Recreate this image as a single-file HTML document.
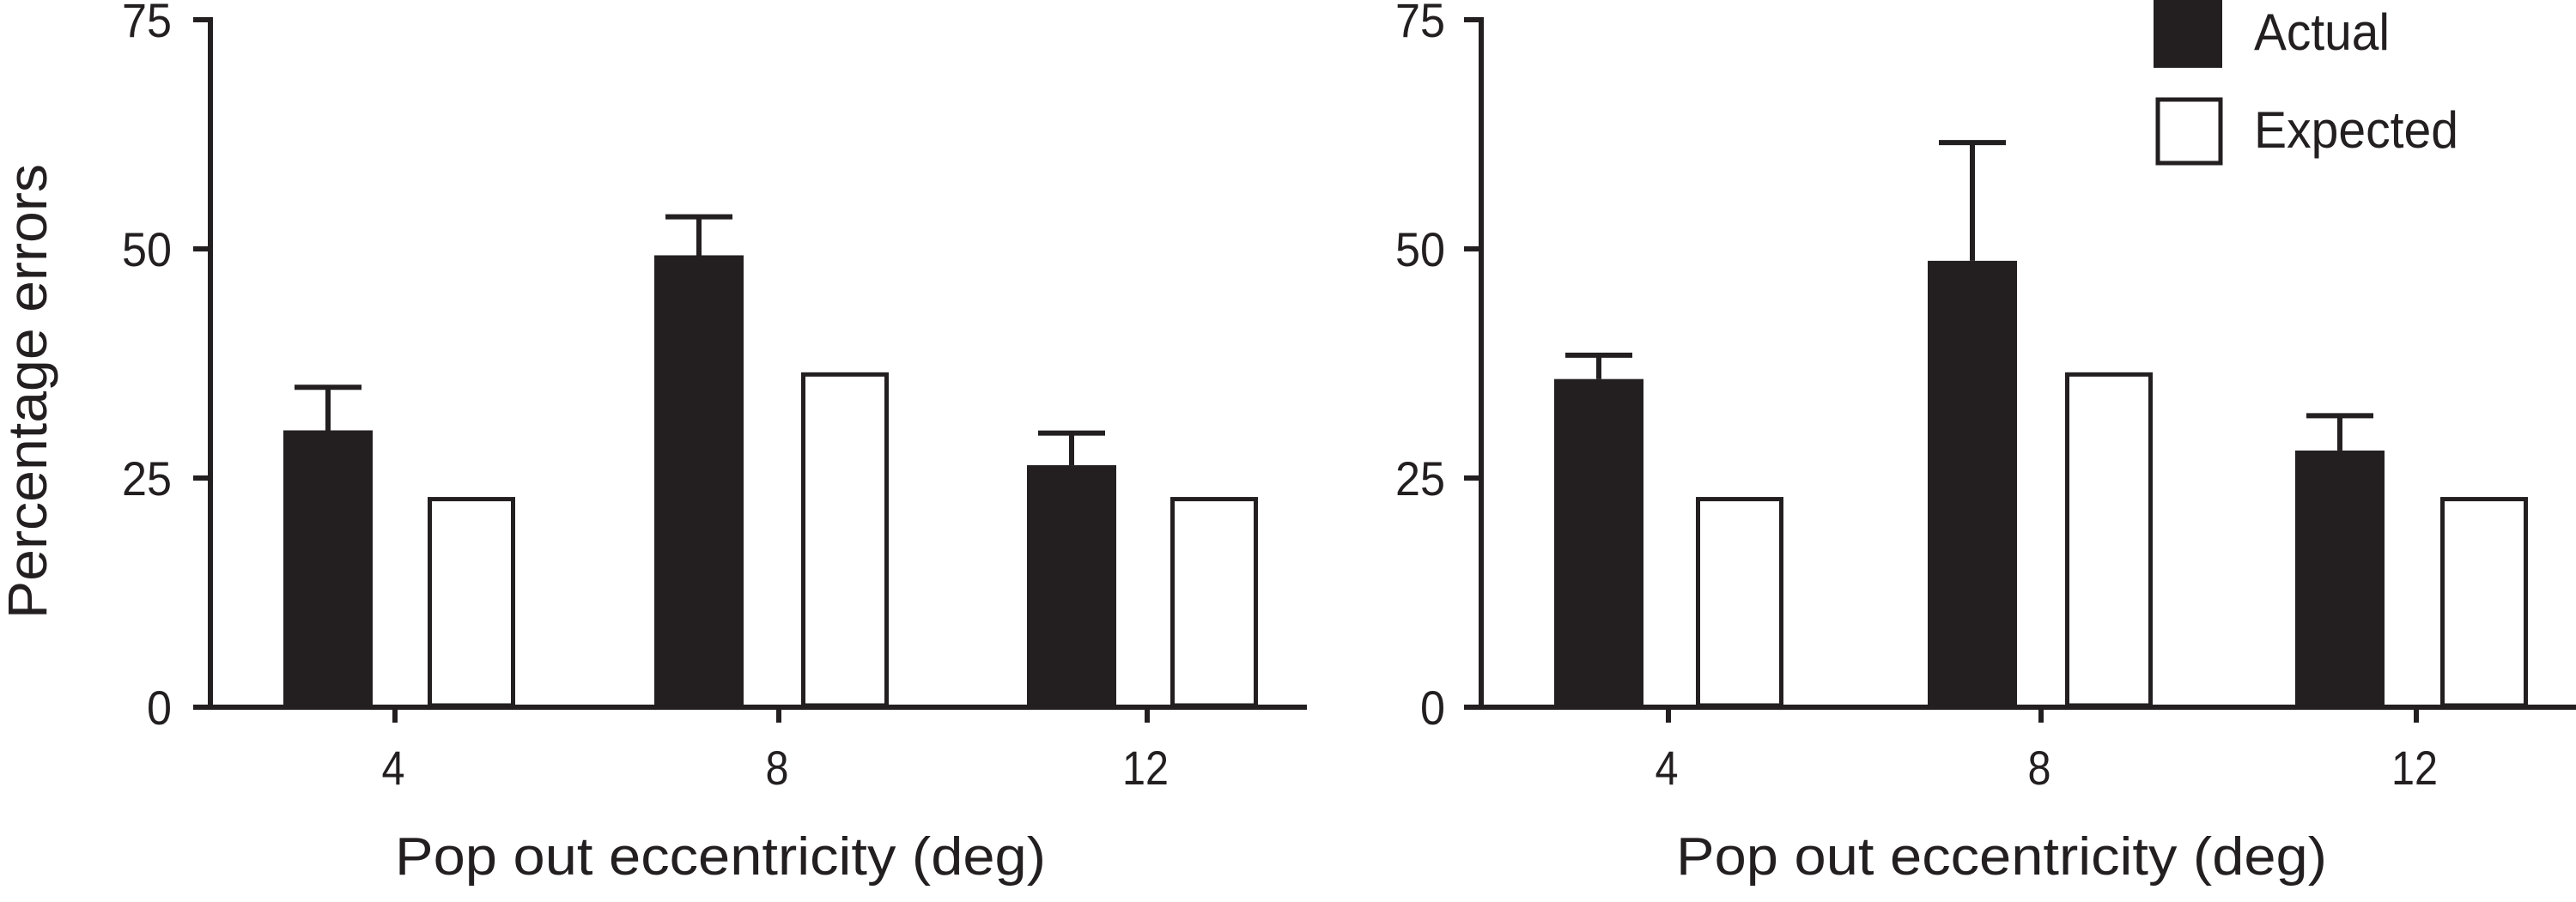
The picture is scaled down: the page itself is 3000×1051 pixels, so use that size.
<!DOCTYPE html>
<html><head><meta charset="utf-8"><style>
html,body{margin:0;padding:0;background:#fff;}
svg{display:block;}
text{font-family:"Liberation Sans",Arial,sans-serif;fill:#231f20;}
</style></head><body>
<svg id="chart" width="3000" height="1051" viewBox="0 0 3000 1051" xmlns="http://www.w3.org/2000/svg">
<g id="legend">
  <rect x="2508" y="-5" width="80" height="84" fill="#231f20"/>
  <text x="2625" y="58" font-size="60" textLength="158" lengthAdjust="spacingAndGlyphs">Actual</text>
  <rect x="2513" y="116" width="73" height="74" fill="#fff" stroke="#231f20" stroke-width="5"/>
  <text x="2625" y="172" font-size="60" textLength="238" lengthAdjust="spacingAndGlyphs">Expected</text>
</g>
<text transform="translate(54,456) rotate(-90)" text-anchor="middle" font-size="64" textLength="530" lengthAdjust="spacingAndGlyphs">Percentage errors</text>
</svg>
<script>
const categories = ["4", "8", "12"];
const yTicks = [0, 25, 50, 75];
const leftActual = [30.2, 49.3, 26.4];
const leftActualErr = [4.7, 4.2, 3.5];
const leftExpected = [22.7, 36.3, 22.7];
const rightActual = [35.8, 48.7, 28.0];
const rightActualErr = [2.6, 12.9, 3.8];
const rightExpected = [22.7, 36.3, 22.7];

const NS = "http://www.w3.org/2000/svg";
const svg = document.getElementById("chart");
const Y0 = 824, YMAX = 23;
function yScale(v){ return Y0 - (v/75)*(Y0-YMAX); }
function mk(tag, attrs, parent){
  const e = document.createElementNS(NS, tag);
  for (const k in attrs) e.setAttribute(k, attrs[k]);
  (parent||svg).appendChild(e);
  return e;
}
const panels = [
  {id:"left", axisX:245, axisEnd:1522, labelRight:200, tickCenters:[460,907,1336], actualX:[330,762,1196], expX:[498,933,1363], barW:104, actual:leftActual, err:leftActualErr, exp:leftExpected, titleX:839},
  {id:"right", axisX:1725, axisEnd:3000, labelRight:1683, tickCenters:[1943,2377,2814], actualX:[1810,2245,2673], expX:[1975,2405,2842], barW:104, actual:rightActual, err:rightActualErr, exp:rightExpected, titleX:2331}
];
panels.forEach(p=>{
  const g = mk("g", {});
  
  
  categories.forEach((c,i)=>{
    const ax = p.actualX[i];
    const top = yScale(p.actual[i]);
    const etop = yScale(p.actual[i] + p.err[i]);
    const cx = ax + p.barW/2;
    const el = mk("line", {x1:cx, x2:cx, y1:top, y2:etop, stroke:"#231f20", "stroke-width":6}, g);
    
    
    const cap = mk("line", {x1:cx-39, x2:cx+39, y1:etop, y2:etop, stroke:"#231f20", "stroke-width":6}, g);
    
    
    const b = mk("rect", {x:ax, y:top, width:p.barW, height:Y0-top, fill:"#231f20"}, g);
    
    
    const et = yScale(p.exp[i]);
    const eb = mk("rect", {x:p.expX[i]+2.5, y:et, width:p.barW-7, height:Y0-et-2, fill:"#fff", stroke:"#231f20", "stroke-width":5}, g);
    
    
    const tx = p.tickCenters[i];
    const t = mk("line", {x1:tx, x2:tx, y1:Y0, y2:842, stroke:"#231f20", "stroke-width":6}, g);
    
    
    const tl = mk("text", {x:tx-2, y:914, "font-size":56, "text-anchor":"middle", textLength:27*c.length, lengthAdjust:"spacingAndGlyphs"}, g);
    tl.textContent = c;
    
    
  });
  const ya = mk("line", {x1:p.axisX, x2:p.axisX, y1:YMAX-3, y2:Y0+3, stroke:"#231f20", "stroke-width":6}, g);
  
  
  const xa = mk("line", {x1:p.axisX-3, x2:p.axisEnd, y1:Y0, y2:Y0, stroke:"#231f20", "stroke-width":6}, g);
  
  
  yTicks.forEach(v=>{
    const y = yScale(v);
    const t = mk("line", {x1:p.axisX-20, x2:p.axisX, y1:y, y2:y, stroke:"#231f20", "stroke-width":6}, g);
    
    
    const s = String(v);
    const l = mk("text", {x:p.labelRight, y:y+20, "font-size":56, "text-anchor":"end", textLength:29*s.length, lengthAdjust:"spacingAndGlyphs"}, g);
    l.textContent = s;
    
    
  });
  const tt = mk("text", {x:p.titleX, y:1019, "font-size":62, "text-anchor":"middle", textLength:758, lengthAdjust:"spacingAndGlyphs"}, g);
  tt.textContent = "Pop out eccentricity (deg)";
  
  
});
svg.appendChild(document.getElementById("legend"));
</script>
</body></html>
